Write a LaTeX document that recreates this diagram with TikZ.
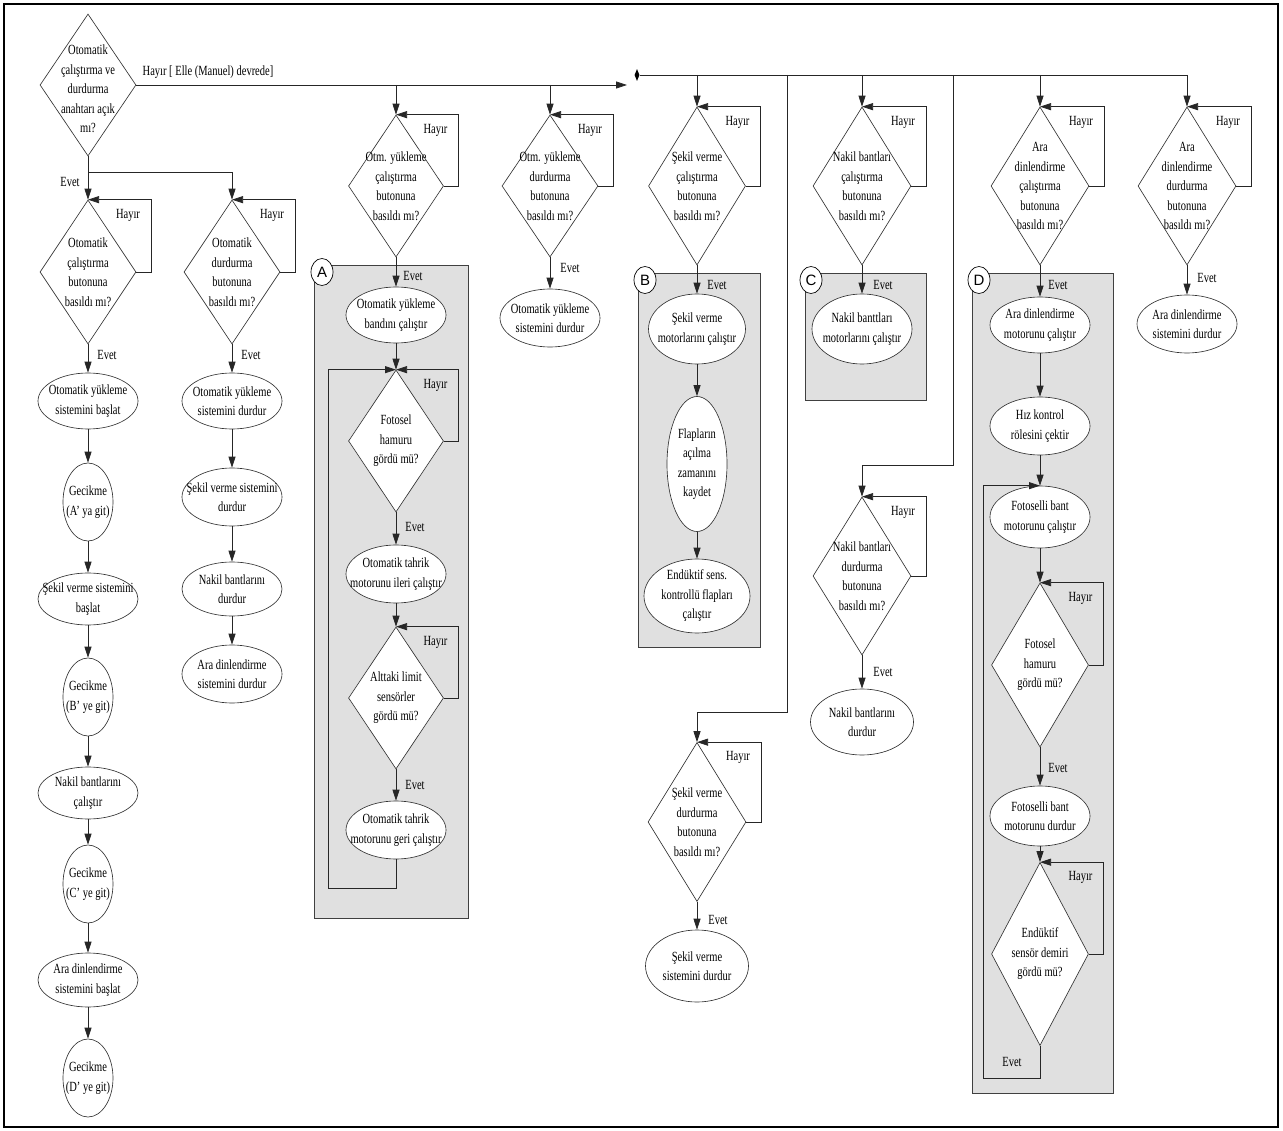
\documentclass[tikz,border=0pt]{standalone}
\usepackage{fontspec}
\setmainfont{Liberation Serif}[FakeStretch=0.75]
\newfontfamily\lsans{Liberation Sans}
\usetikzlibrary{shapes.geometric,arrows.meta}
\tikzset{
  dia/.style 2 args={diamond, draw=black!80, fill=white, line width=0.65pt, inner sep=0pt, minimum width=#1pt, minimum height=#2pt},
  ell/.style 2 args={ellipse, draw=black!80, fill=white, line width=0.65pt, inner sep=0pt, minimum width=#1pt, minimum height=#2pt},
  tx/.style={align=center, inner sep=0pt, font=\fontsize{14}{19.5}\selectfont},
  lbl/.style={inner sep=0pt, font=\fontsize{14}{15}\selectfont},
  ln/.style={draw=black!85, line width=0.75pt},
  arr/.style={ln, -{Triangle[length=11pt,width=7pt]}},
  boxs/.style={draw=black!75, line width=0.7pt, fill=black!12},
  circ/.style={ellipse, draw=black, fill=white, line width=0.7pt, inner sep=0pt, minimum width=22pt, minimum height=27pt, font=\lsans\fontsize{15}{15}\selectfont},
  jnode/.style={diamond, fill=black, inner sep=0pt, minimum width=5pt, minimum height=12pt}
}
\newcommand\mkq[6]{%
  \node[dia={#4}{#5}] (#1) at (#2,#3) {};
  \node[tx] (#1t) at (#2,#3) {#6};
  \draw[arr] (#1.east) -- ++(15,0) |- (#1.north);
  \node[lbl] (#1h) at ({#2+#4/2-8},{#3-#5/2+15}) {Hayır};
}
\newcommand\mke[6]{%
  \node[ell={#4}{#5}] (#1) at (#2,#3) {};
  \node[tx] (#1t) at (#2,#3) {#6};
}
\begin{document}
\begin{tikzpicture}[x=1pt,y=-1pt]
\useasboundingbox (0,0) rectangle (1283,1131);
\draw[line width=2pt] (4,4) rectangle (1278,1127);
% shaded groups
\draw[boxs] (314,265) rectangle (468,918);
\draw[boxs] (638,273) rectangle (760,647);
\draw[boxs] (805,273) rectangle (926,400);
\draw[boxs] (972,273) rectangle (1113,1093);
\node[circ] (cA) at (322,272) {A};
\node[circ] (cB) at (645,280) {B};
\node[circ] (cC) at (811,280) {C};
\node[circ] (cD) at (979,280) {D};
% main decision
\node[dia={96}{142}] (d0) at (88,85) {};
\node[tx] (d0t) at (88,89) {Otomatik\\çalıştırma ve\\durdurma\\anahtarı açık\\mı?};
\node[lbl] (d0h) at (208,72) {Hayır [ Elle (Manuel) devrede]};
\node[lbl] (d0e) at (70,182) {Evet};
% left columns
\mkq{d1}{88}{272}{96}{144}{Otomatik\\çalıştırma\\butonuna\\basıldı mı?}
\mkq{d2}{232}{272}{96}{144}{Otomatik\\durdurma\\butonuna\\basıldı mı?}
\node[lbl] (d1e) at (107,355) {Evet};
\node[lbl] (d2e) at (251,355) {Evet};
\mke{e1}{88}{401}{100}{56}{Otomatik yükleme\\sistemini başlat}
\mke{e2}{88}{502}{50}{78}{Gecikme\\(A' ya git)}
\mke{e3}{88}{599}{100}{52}{Şekil verme sistemini\\başlat}
\mke{e4}{88}{697}{50}{78}{Gecikme\\(B' ye git)}
\mke{e5}{88}{793}{100}{52}{Nakil bantlarını\\çalıştır}
\mke{e6}{88}{884}{50}{78}{Gecikme\\(C' ye git)}
\mke{e7}{88}{980}{100}{54}{Ara dinlendirme\\sistemini başlat}
\mke{e8}{88}{1078}{50}{78}{Gecikme\\(D' ye git)}
\mke{f1}{232}{401}{100}{56}{Otomatik yükleme\\sistemini durdur}
\mke{f2}{232}{497}{100}{58}{Şekil verme sistemini\\durdur}
\mke{f3}{232}{589}{100}{54}{Nakil bantlarını\\durdur}
\mke{f4}{232}{674}{100}{58}{Ara dinlendirme\\sistemini durdur}
% column A
\mkq{dA}{396}{186}{95}{142}{Otm. yükleme\\çalıştırma\\butonuna\\basıldı mı?}
\node[lbl] (dAe) at (413,276) {Evet};
\mke{eA1}{396}{315}{100}{56}{Otomatik yükleme\\bandını çalıştır}
\mkq{fA1}{396}{441}{95}{142}{Fotosel\\hamuru\\gördü mü?}
\node[lbl] (fA1e) at (415,527) {Evet};
\mke{eA2}{396}{574}{100}{58}{Otomatik tahrik\\motorunu ileri çalıştır}
\mkq{fA2}{396}{698}{95}{142}{Alttaki limit\\sensörler\\gördü mü?}
\node[lbl] (fA2e) at (415,785) {Evet};
\mke{eA3}{396}{830}{100}{58}{Otomatik tahrik\\motorunu geri çalıştır}
% column A stop
\mkq{dAs}{550}{186}{96}{142}{Otm. yükleme\\durdurma\\butonuna\\basıldı mı?}
\node[lbl] (dAse) at (570,268) {Evet};
\mke{eAs}{550}{318}{100}{58}{Otomatik yükleme\\sistemini durdur}
% column B
\mkq{dB}{697}{186}{97}{158}{Şekil verme\\çalıştırma\\butonuna\\basıldı mı?}
\node[lbl] (dBe) at (717,285) {Evet};
\mke{eB1}{697}{329}{97}{70}{Şekil verme\\motorlarını çalıştır}
\mke{eB2}{697}{464}{60}{135}{Flapların\\açılma\\zamanını\\kaydet}
\mke{eB3}{697}{596}{106}{74}{Endüktif sens.\\kontrollü flapları\\çalıştır}
\mkq{dBs}{697}{822}{98}{159}{Şekil verme\\durdurma\\butonuna\\basıldı mı?}
\node[lbl] (dBse) at (718,920) {Evet};
\mke{eBs}{697}{966}{103}{72}{Şekil verme\\sistemini durdur}
% column C
\mkq{dC}{862}{186}{98}{158}{Nakil bantları\\çalıştırma\\butonuna\\basıldı mı?}
\node[lbl] (dCe) at (883,285) {Evet};
\mke{eC}{862}{329}{100}{70}{Nakil banttları\\motorlarını çalıştır}
\mkq{dCs}{862}{576}{98}{158}{Nakil bantları\\durdurma\\butonuna\\basıldı mı?}
\node[lbl] (dCse) at (883,672) {Evet};
\mke{eCs}{862}{722}{103}{66}{Nakil bantlarını\\durdur}
% column D
\mkq{dD}{1040}{186}{98}{158}{Ara\\dinlendirme\\çalıştırma\\butonuna\\basıldı mı?}
\node[lbl] (dDe) at (1058,285) {Evet};
\mke{eD1}{1040}{325}{100}{56}{Ara dinlendirme\\motorunu çalıştır}
\mke{eD2}{1040}{426}{100}{58}{Hız kontrol\\rölesini çektir}
\mke{eD3}{1040}{517}{100}{62}{Fotoselli bant\\motorunu çalıştır}
\mkq{fD1}{1040}{665}{97}{164}{Fotosel\\hamuru\\gördü mü?}
\node[lbl] (fD1e) at (1058,768) {Evet};
\mke{eD4}{1040}{816}{100}{60}{Fotoselli bant\\motorunu durdur}
\mkq{fD2}{1040}{954}{97}{183}{Endüktif\\sensör demiri\\gördü mü?}
\node[lbl] (fD2e) at (1012,1062) {Evet};
% column E
\mkq{dE}{1187}{186}{98}{158}{Ara\\dinlendirme\\durdurma\\butonuna\\basıldı mı?}
\node[lbl] (dEe) at (1207,278) {Evet};
\mke{eE}{1187}{324}{100}{58}{Ara dinlendirme\\sistemini durdur}
% main connectors
\coordinate (br0) at (88,172);
\draw[arr] (d0.south) -- (d1.north);
\draw[arr] (br0) -| (d2.north);
\coordinate (jin) at (627,85);
\draw[arr] (d0.east) -- (jin);
\draw[arr] (dA.north |- jin) -- (dA.north);
\draw[arr] (dAs.north |- jin) -- (dAs.north);
\node[jnode] (jn) at (637,75) {};
\draw[ln] (jn) -- (dE.north |- jn);
\foreach \n in {dB,dC,dD,dE} \draw[arr] (\n.north |- jn) -- (\n.north);
\coordinate (bs1) at (787,75); \coordinate (bs2) at (787,712);
\draw[arr] (bs1) -- (bs2) -| (dBs.north);
\coordinate (cs1) at (953,75); \coordinate (cs2) at (953,465);
\draw[arr] (cs1) -- (cs2) -| (dCs.north);
\foreach \a/\b in {d1/e1,e1/e2,e2/e3,e3/e4,e4/e5,e5/e6,e6/e7,e7/e8,
  d2/f1,f1/f2,f2/f3,f3/f4,
  dA/eA1,eA1/fA1,fA1/eA2,eA2/fA2,fA2/eA3,dAs/eAs,
  dB/eB1,eB1/eB2,eB2/eB3,dBs/eBs,dC/eC,dCs/eCs,
  dD/eD1,eD1/eD2,eD2/eD3,eD3/fD1,fD1/eD4,eD4/fD2,dE/eE}
  \draw[arr] (\a.south) -- (\b.north);
% inner loops
\coordinate (la1) at (396,888); \coordinate (la2) at (328,888);
\draw[arr] (eA3.south) -- (la1) -- (la2) |- (fA1.north);
\coordinate (ld1) at (1040,1078); \coordinate (ld2) at (983,1078);
\draw[arr] (fD2.south) -- (ld1) -- (ld2) |- (eD3.north);
\end{tikzpicture}
\end{document}
